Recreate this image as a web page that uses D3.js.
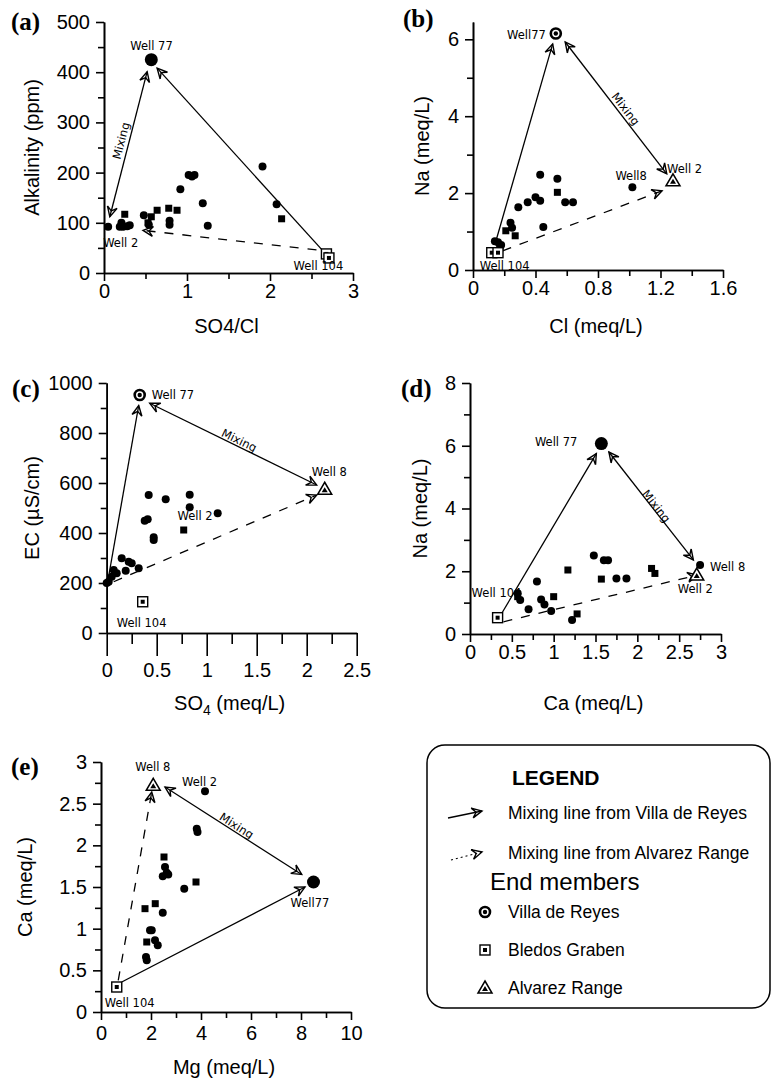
<!doctype html>
<html lang=en>
<head>
<meta charset=utf-8>
<title>Mixing plots</title>
<script src="https://d3js.org/d3.v7.min.js"></script>
<style>
body{margin:0;background:#fff}
svg text{font-family:"Liberation Sans",Arial,sans-serif;fill:#000}
.tick text{font-size:20px}
.well,.mix{font-family:"DejaVu Sans",sans-serif !important;font-size:11.5px}
.plab{font-family:"Liberation Serif","Times New Roman",serif !important;font-weight:bold;font-size:25px}
</style>
</head>
<body>
<div id="container"></div>
<script>
// ---------- data ----------
// (a) Alkalinity vs SO4/Cl
var aCircles = [[0.05,92],[0.19,92],[0.21,100],[0.23,92],[0.28,93],[0.31,95],[0.48,115],[0.54,96],[0.79,104],[0.79,96],
                [0.92,167],[1.02,195],[1.06,192],[1.09,195],[1.19,139],[1.25,94],[1.91,212],[2.08,137]];
var aSquares = [[0.25,117],[0.53,100],[0.57,112],[0.64,125],[0.78,129],[0.88,125],[2.14,108]];
var aEnds = [{name:"Well 77", kind:"big", pts:[[0.57,425]]},
             {name:"Well 2", kind:"none", pts:[[0.05,92]]},
             {name:"Well 104", kind:"bledos", pts:[[2.68,38],[2.71,30]]}];
var aLines = [{kind:"solid", from:[2.66,40], to:[0.64,408]},
              {kind:"double", from:[0.07,112], to:[0.52,401]},
              {kind:"dashed", from:[2.56,46], to:[0.47,85]}];
var aXTicks = [0,1,2,3], aXMinor = [0.5,1.5,2.5];
var aYTicks = [0,100,200,300,400,500], aYMinor = [50,150,250,350,450];

// (b) Na vs Cl
var bCircles = [[0.14,0.75],[0.16,0.72],[0.18,0.65],[0.17,0.55],[0.24,1.23],[0.25,1.1],[0.29,1.63],[0.35,1.76],[0.40,1.89],
                [0.43,1.8],[0.43,2.48],[0.45,1.12],[0.54,2.37],[0.59,1.76],[0.64,1.76],[1.02,2.15]];
var bSquares = [[0.21,1.02],[0.27,0.89],[0.54,2.02]];
var bEnds = [{name:"Well77", kind:"villa", pts:[[0.53,6.15]]},
             {name:"Well 2", kind:"alvarez", pts:[[1.28,2.32]]},
             {name:"Well8", kind:"none", pts:[[1.02,2.15]]},
             {name:"Well 104", kind:"bledos", pts:[[0.12,0.45],[0.16,0.45]]}];
var bLines = [{kind:"solid", from:[0.15,0.8], to:[0.51,5.88]},
              {kind:"double", from:[0.59,5.93], to:[1.24,2.5]},
              {kind:"dashed", from:[0.19,0.5], to:[1.21,2.06]}];
var bXTicks = [0,0.4,0.8,1.2,1.6], bXMinor = [0.2,0.6,1.0,1.4];
var bYTicks = [0,2,4,6], bYMinor = [1,3,5];

// (c) EC vs SO4
var cCircles = [[0.42,552],[0.59,535],[0.83,553],[0.83,503],[1.11,479],[0.38,449],[0.41,455],[0.47,383],[0.47,372],
                [0.15,299],[0.22,285],[0.25,279],[0.32,259],[0.19,249],[0.10,239],[0.07,252],[0.05,225],[0.02,205],[0.0,200]];
var cSquares = [[0.77,412]];
var cEnds = [{name:"Well 77", kind:"villa", pts:[[0.33,952]]},
             {name:"Well 8", kind:"alvarez", pts:[[2.18,575]]},
             {name:"Well 2", kind:"none", pts:[[1.11,479]]},
             {name:"Well 104", kind:"bledos", pts:[[0.36,125]]}];
var cLines = [{kind:"solid", from:[0.01,205], to:[0.32,910]},
              {kind:"double", from:[0.43,919], to:[2.1,592]},
              {kind:"dashed", from:[0.07,205], to:[2.1,552]}];
var cXTicks = [0,0.5,1,1.5,2,2.5], cXMinor = [0.25,0.75,1.25,1.75,2.25];
var cYTicks = [0,200,400,600,800,1000], cYMinor = [100,300,500,700,900];

// (d) Na vs Ca
var dCircles = [[0.57,1.3],[0.6,1.08],[0.70,0.79],[0.80,1.67],[0.85,1.10],[0.89,0.94],[0.97,0.73],[1.22,0.45],[1.48,2.5],
                [1.6,2.35],[1.65,2.35],[1.75,1.77],[1.87,1.77],[2.75,2.2]];
var dSquares = [[0.57,1.19],[1.0,1.19],[1.17,2.04],[1.28,0.64],[1.57,1.75],[2.17,2.09],[2.21,1.93]];
var dEnds = [{name:"Well 77", kind:"big", pts:[[1.57,6.07]]},
             {name:"Well 8", kind:"none", pts:[[2.75,2.2]]},
             {name:"Well 2", kind:"alvarez", pts:[[2.71,1.88]]},
             {name:"Well 104", kind:"bledos", pts:[[0.33,0.52]]}];
var dLines = [{kind:"solid", from:[0.38,0.66], to:[1.51,5.75]},
              {kind:"double", from:[1.66,5.8], to:[2.67,2.36]},
              {kind:"dashed", from:[0.40,0.39], to:[2.72,1.88]}];
var dXTicks = [0,0.5,1,1.5,2,2.5,3], dXMinor = [0.25,0.75,1.25,1.75,2.25,2.75];
var dYTicks = [0,2,4,6,8], dYMinor = [1,3,5,7];

// (e) Ca vs Mg
var eCircles = [[4.16,2.65],[3.83,2.2],[3.86,2.16],[2.56,1.74],[2.63,1.67],[2.47,1.63],[2.69,1.65],[3.33,1.48],[2.47,1.19],
                [1.96,0.98],[2.03,0.98],[2.16,0.86],[2.27,0.8],[1.80,0.66],[1.83,0.62]];
var eSquares = [[2.52,1.86],[3.80,1.56],[1.76,1.24],[2.17,1.3],[1.83,0.84]];
var eEnds = [{name:"Well 8", kind:"alvarez", pts:[[2.09,2.72]]},
             {name:"Well 2", kind:"none", pts:[[4.16,2.65]]},
             {name:"Well77", kind:"big", pts:[[8.5,1.56]]},
             {name:"Well 104", kind:"bledos", pts:[[0.63,0.30]]}];
var eLines = [{kind:"solid", from:[0.83,0.36], to:[8.16,1.5]},
              {kind:"double", from:[2.56,2.70], to:[8.03,1.65]},
              {kind:"dashed", from:[0.69,0.38], to:[2.03,2.64]}];
var eXTicks = [0,2,4,6,8,10], eXMinor = [1,3,5,7,9];
var eYTicks = [0,0.5,1,1.5,2,2.5,3], eYMinor = [0.25,0.75,1.25,1.75,2.25,2.75];

var legendItems = ["Mixing line from Villa de Reyes","Mixing line from Alvarez Range"];
var legendEnds = ["Villa de Reyes","Bledos Graben","Alvarez Range"];

// ---------- layout ----------
var panels = [
 {tag:"(a)", circles:aCircles, squares:aSquares, ends:aEnds, lines:aLines,
  xDom:[0,3], yDom:[0,500], xr:[104,353], yr:[273,22],
  xt:aXTicks, xm:aXMinor, yt:aYTicks, ym:aYMinor, xTick:8, xPad:3,
  xTitle:"SO4/Cl", yTitle:"Alkalinity (ppm)", xTitleY:333, yTitleX:32, tagPos:[11,30],
  labels:{"Well 77":[-21,-10],"Well 2":[-5,20],"Well 104":[-33,16]}, mix:{t:0.51,off:-8}},
 {tag:"(b)", circles:bCircles, squares:bSquares, ends:bEnds, lines:bLines,
  xDom:[0,1.6], yDom:[0,6.45], xr:[473,723], yr:[270,22],
  xt:bXTicks, xm:bXMinor, yt:bYTicks, ym:bYMinor, xTick:8, xPad:3,
  xTitle:"Cl (meq/L)", yTitle:"Na (meq/L)", xTitleY:333, yTitleX:422, tagPos:[403,27],
  labels:{"Well77":[-10,5,"end"],"Well 2":[-6,-8],"Well8":[-17,-7],"Well 104":[-12,17]}, mix:{t:0.54,off:-7}},
 {tag:"(c)", circles:cCircles, squares:cSquares, ends:cEnds, lines:cLines,
  xDom:[0,2.5], yDom:[0,1000], xr:[106.7,356.7], yr:[633,383],
  xt:cXTicks, xm:cXMinor, yt:cYTicks, ym:cYMinor, xTick:23, xMinorTick:11, xPad:7,
  xTitle:"SO4 (meq/L)", sub:true, yTitle:"EC (µS/cm)", xTitleY:710, yTitleX:32, tagPos:[12,397],
  labels:{"Well 77":[12,4],"Well 8":[-13,-13],"Well 2":[-5,7,"end"],"Well 104":[-26,25]}, mix:{t:0.52,off:-6}},
 {tag:"(d)", circles:dCircles, squares:dSquares, ends:dEnds, lines:dLines,
  xDom:[0,3], yDom:[0,8], xr:[470,721], yr:[634,383],
  xt:dXTicks, xm:dXMinor, yt:dYTicks, ym:dYMinor, xTick:8, xPad:3,
  xTitle:"Ca (meq/L)", yTitle:"Na (meq/L)", xTitleY:710, yTitleX:420, tagPos:[401,397],
  labels:{"Well 77":[-24,2,"end"],"Well 8":[10,6],"Well 2":[-19,18],"Well 104":[-26,-21]}, mix:{t:0.525,off:-4}},
 {tag:"(e)", circles:eCircles, squares:eSquares, ends:eEnds, lines:eLines,
  xDom:[0,10], yDom:[0,3], xr:[101,351], yr:[1012,762],
  xt:eXTicks, xm:eXMinor, yt:eYTicks, ym:eYMinor, xTick:8, xPad:6,
  xTitle:"Mg (meq/L)", yTitle:"Ca (meq/L)", xTitleY:1074, yTitleX:25, tagPos:[11,775],
  labels:{"Well 8":[-18,-14],"Well 2":[-23,-5],"Well77":[-23,25],"Well 104":[-12,20]}, mix:{t:0.5,off:-6}}
];

var svg = d3.select("#container").append("svg")
  .attr("width", 772).attr("height", 1079)
  .style("background-color", "#fff");

var defs = svg.append("defs");
defs.append("marker").attr("id", "arr")
  .attr("viewBox", "-12 -7 14 14").attr("markerWidth", 14).attr("markerHeight", 14)
  .attr("markerUnits", "userSpaceOnUse").attr("refX", 0).attr("refY", 0)
  .attr("orient", "auto-start-reverse")
  .append("path").attr("d", "M-10,-5 L0,0 L-10,5 M-10,-5 L-6,0 L-10,5")
  .attr("fill", "none").attr("stroke", "#000").attr("stroke-width", 1.4);

function fmt(d) { return String(d); }

function endMarker(g, kind, cx, cy) {
  if (kind == "villa") {
    g.append("circle").attr("cx", cx).attr("cy", cy).attr("r", 5).attr("fill", "#fff").attr("stroke", "#000").attr("stroke-width", 2.6);
    g.append("circle").attr("cx", cx).attr("cy", cy).attr("r", 2.2).attr("fill", "#000");
  } else if (kind == "big") {
    g.append("circle").attr("cx", cx).attr("cy", cy).attr("r", 6.5).attr("fill", "#000");
  } else if (kind == "bledos") {
    g.append("rect").attr("x", cx - 5).attr("y", cy - 5).attr("width", 10).attr("height", 10).attr("fill", "#fff").attr("stroke", "#000").attr("stroke-width", 1.4);
    g.append("rect").attr("x", cx - 2).attr("y", cy - 2).attr("width", 4).attr("height", 4).attr("fill", "#000");
  } else if (kind == "alvarez") {
    g.append("path").attr("d", "M" + cx + "," + (cy - 7) + " L" + (cx + 7) + "," + (cy + 5) + " L" + (cx - 7) + "," + (cy + 5) + "Z")
      .attr("fill", "#fff").attr("stroke", "#000").attr("stroke-width", 1.5);
    g.append("path").attr("d", "M" + cx + "," + (cy - 2) + " L" + (cx + 3) + "," + (cy + 3) + " L" + (cx - 3) + "," + (cy + 3) + "Z")
      .attr("fill", "#000");
  }
}

panels.forEach(function(p) {
  var x = d3.scaleLinear().domain(p.xDom).range(p.xr);
  var y = d3.scaleLinear().domain(p.yDom).range(p.yr);
  var g = svg.append("g");

  // axes: minor ticks first, then labelled ticks with the axis line
  g.append("g").attr("transform", "translate(0," + p.yr[0] + ")")
    .call(d3.axisBottom(x).tickValues(p.xm).tickSize(p.xMinorTick || 6).tickSizeOuter(0).tickFormat(""));
  g.append("g").attr("transform", "translate(0," + p.yr[0] + ")")
    .call(d3.axisBottom(x).tickValues(p.xt).tickSize(p.xTick).tickPadding(p.xPad).tickSizeOuter(0).tickFormat(fmt));
  g.append("g").attr("transform", "translate(" + p.xr[0] + ",0)")
    .call(d3.axisLeft(y).tickValues(p.ym).tickSize(6).tickSizeOuter(0).tickFormat(""));
  g.append("g").attr("transform", "translate(" + p.xr[0] + ",0)")
    .call(d3.axisLeft(y).tickValues(p.yt).tickSize(8).tickPadding(6).tickSizeOuter(0).tickFormat(fmt));
  g.selectAll(".domain, .tick line").attr("stroke", "#000").attr("stroke-width", 1.6);
  g.selectAll(".tick text").attr("font-family", null);

  // axis titles
  var xt = g.append("text").attr("x", (p.xr[0] + p.xr[1]) / 2 - 2).attr("y", p.xTitleY)
    .attr("text-anchor", "middle").style("font-size", "20px");
  if (p.sub) {
    xt.append("tspan").text("SO");
    xt.append("tspan").text("4").attr("dy", 5).style("font-size", "14px");
    xt.append("tspan").text(" (meq/L)").attr("dy", -5);
  } else xt.text(p.xTitle);
  g.append("text").attr("transform", "translate(" + p.yTitleX + "," + (p.yr[0] + p.yr[1]) / 2 + ") rotate(-90)")
    .attr("text-anchor", "middle").attr("dy", "0.35em").style("font-size", "20px").text(p.yTitle);
  g.append("text").attr("class", "plab").attr("x", p.tagPos[0]).attr("y", p.tagPos[1]).text(p.tag);

  // mixing lines
  p.lines.forEach(function(l) {
    var ln = g.append("line")
      .attr("x1", x(l.from[0])).attr("y1", y(l.from[1]))
      .attr("x2", x(l.to[0])).attr("y2", y(l.to[1]))
      .attr("stroke", "#000").attr("stroke-width", 1.3)
      .attr("marker-end", "url(#arr)");
    if (l.kind == "dashed") ln.attr("stroke-dasharray", "9,9");
    if (l.kind == "double") {
      ln.attr("marker-start", "url(#arr)");
      var x0 = x(l.from[0]), y0 = y(l.from[1]), x1 = x(l.to[0]), y1 = y(l.to[1]);
      var ang = Math.atan2(y1 - y0, x1 - x0) * 180 / Math.PI;
      if (ang > 90) ang -= 180;
      if (ang < -90) ang += 180;
      var cx = x0 + p.mix.t * (x1 - x0), cy = y0 + p.mix.t * (y1 - y0);
      g.append("text").attr("class", "mix")
        .attr("transform", "translate(" + cx + "," + cy + ") rotate(" + ang + ")")
        .attr("y", p.mix.off).attr("dy", "0.35em").attr("text-anchor", "middle").text("Mixing");
    }
  });

  // samples
  g.selectAll("circle.pt").data(p.circles).enter().append("circle")
    .attr("class", "pt").attr("cx", function(d) { return x(d[0]); }).attr("cy", function(d) { return y(d[1]); })
    .attr("r", 4).attr("fill", "#000");
  g.selectAll("rect.pt").data(p.squares).enter().append("rect")
    .attr("class", "pt").attr("x", function(d) { return x(d[0]) - 3.5; }).attr("y", function(d) { return y(d[1]) - 3.5; })
    .attr("width", 7).attr("height", 7).attr("fill", "#000");

  // end members + labels
  p.ends.forEach(function(e) {
    e.pts.forEach(function(pt) { endMarker(g, e.kind, x(pt[0]), y(pt[1])); });
    var o = p.labels[e.name];
    g.append("text").attr("class", "well")
      .attr("x", x(e.pts[0][0]) + o[0]).attr("y", y(e.pts[0][1]) + o[1])
      .attr("text-anchor", o[2] || "start").text(e.name);
  });
});

// ---------- legend ----------
var lg = svg.append("g");
lg.append("rect").attr("x", 427).attr("y", 745).attr("width", 343).attr("height", 263).attr("rx", 18)
  .attr("fill", "none").attr("stroke", "#000").attr("stroke-width", 1.5);
lg.append("text").attr("x", 512).attr("y", 785).style("font-size", "21px").style("font-weight", "bold").text("LEGEND");
lg.selectAll("text.item").data(legendItems).enter().append("text").attr("class", "item")
  .attr("x", 508).attr("y", function(d, i) { return 819 + i * 40; }).style("font-size", "17.5px").text(function(d) { return d; });
lg.append("line").attr("x1", 448).attr("y1", 818).attr("x2", 482).attr("y2", 811)
  .attr("stroke", "#000").attr("stroke-width", 1.3).attr("marker-end", "url(#arr)");
lg.append("line").attr("x1", 451).attr("y1", 860).attr("x2", 482).attr("y2", 852)
  .attr("stroke", "#000").attr("stroke-width", 1.2).attr("stroke-dasharray", "2,3").attr("marker-end", "url(#arr)");
lg.append("text").attr("x", 490).attr("y", 890).style("font-size", "24px").text("End members");
var kinds = ["villa", "bledos", "alvarez"];
legendEnds.forEach(function(d, i) {
  var yy = 912 + i * 38;
  endMarker(lg, kinds[i], 485, yy);
  lg.append("text").attr("x", 508).attr("y", yy + 6).style("font-size", "17.5px").text(d);
});
</script>
</body>
</html>
